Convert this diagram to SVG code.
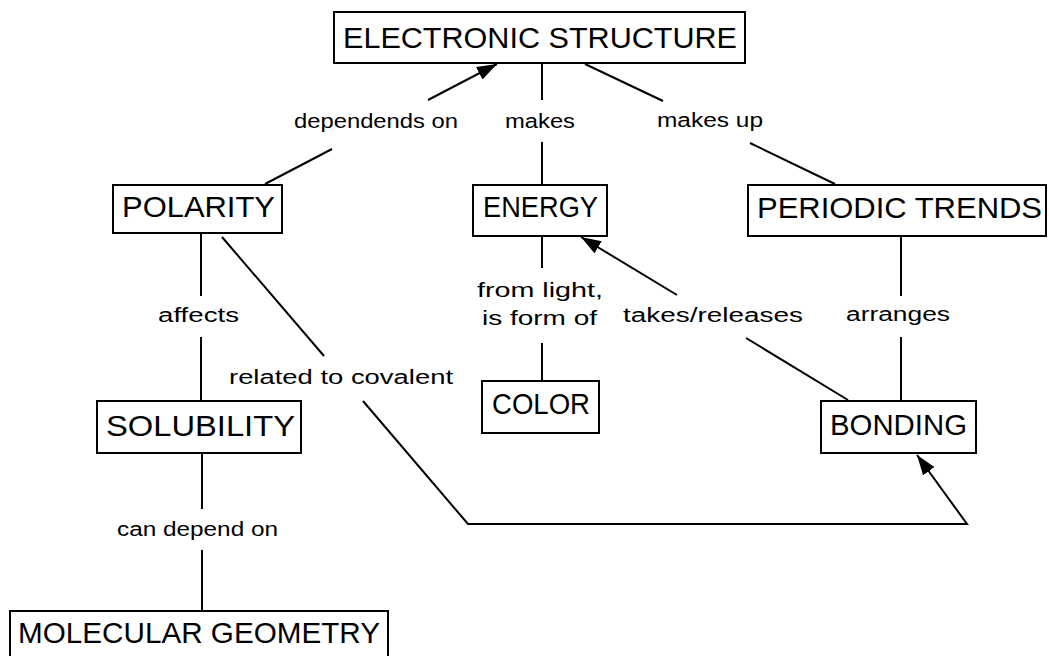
<svg xmlns="http://www.w3.org/2000/svg" width="1049" height="656" viewBox="0 0 1049 656">
<style>
.box{fill:#fff;stroke:#000;stroke-width:2}
.nt{font-family:"Liberation Sans",Arial,sans-serif;font-size:30px;fill:#000}
.lt{font-family:"Liberation Sans",Arial,sans-serif;font-size:20px;fill:#000}
.ln{fill:none;stroke:#000;stroke-width:2}
</style>
<defs>
<marker id="ah" viewBox="0 0 20 14" refX="20" refY="7" markerWidth="20" markerHeight="14" markerUnits="userSpaceOnUse" orient="auto">
<path d="M0,0 L20,7 L0,14 z" fill="#000"/>
</marker>
</defs>
<rect width="1049" height="656" fill="#fff"/>
<g id="connectors">
<line class="ln" x1="265" y1="184" x2="332" y2="149"/>
<line class="ln" x1="428" y1="100" x2="497" y2="64" marker-end="url(#ah)"/>
<line class="ln" x1="542" y1="63" x2="542" y2="100"/>
<line class="ln" x1="542" y1="142" x2="542" y2="185"/>
<line class="ln" x1="585" y1="64" x2="663" y2="101"/>
<line class="ln" x1="750" y1="143" x2="835" y2="184"/>
<line class="ln" x1="201" y1="233" x2="201" y2="296"/>
<line class="ln" x1="201" y1="337" x2="201" y2="401"/>
<line class="ln" x1="222" y1="237" x2="324" y2="356"/>
<polyline class="ln" points="363,401 468,524 967,524 917,455" marker-end="url(#ah)"/>
<line class="ln" x1="202" y1="453" x2="202" y2="509"/>
<line class="ln" x1="202" y1="550" x2="202" y2="611"/>
<line class="ln" x1="542" y1="236" x2="542" y2="268"/>
<line class="ln" x1="542" y1="343" x2="542" y2="381"/>
<line class="ln" x1="848" y1="400" x2="746" y2="338"/>
<line class="ln" x1="677" y1="295" x2="581" y2="237" marker-end="url(#ah)"/>
<line class="ln" x1="901" y1="236" x2="901" y2="296"/>
<line class="ln" x1="901" y1="337" x2="901" y2="401"/>
</g>
<g id="labels">
<text class="lt" x="294" y="128" textLength="164" lengthAdjust="spacingAndGlyphs">dependends on</text>
<text class="lt" x="505" y="128" textLength="70" lengthAdjust="spacingAndGlyphs">makes</text>
<text class="lt" x="657" y="127" textLength="106" lengthAdjust="spacingAndGlyphs">makes up</text>
<text class="lt" x="158" y="322" textLength="81" lengthAdjust="spacingAndGlyphs">affects</text>
<text class="lt" x="229" y="384" textLength="224" lengthAdjust="spacingAndGlyphs">related to covalent</text>
<text class="lt" x="477" y="297" textLength="126" lengthAdjust="spacingAndGlyphs">from light,</text>
<text class="lt" x="482" y="325" textLength="115" lengthAdjust="spacingAndGlyphs">is form of</text>
<text class="lt" x="623" y="322" textLength="180" lengthAdjust="spacingAndGlyphs">takes/releases</text>
<text class="lt" x="846" y="321" textLength="104" lengthAdjust="spacingAndGlyphs">arranges</text>
<text class="lt" x="117" y="536" textLength="161" lengthAdjust="spacingAndGlyphs">can depend on</text>
</g>
<g id="electronic-structure">
<rect class="box" x="334" y="12" width="411" height="51"/>
<text class="nt" x="343" y="48" textLength="394" lengthAdjust="spacingAndGlyphs">ELECTRONIC STRUCTURE</text>
</g>
<g id="polarity">
<rect class="box" x="113" y="185" width="169" height="48"/>
<text class="nt" x="122" y="217" textLength="153" lengthAdjust="spacingAndGlyphs">POLARITY</text>
</g>
<g id="energy">
<rect class="box" x="473" y="185" width="134" height="51"/>
<text class="nt" x="483" y="217" textLength="115" lengthAdjust="spacingAndGlyphs">ENERGY</text>
</g>
<g id="periodic-trends">
<rect class="box" x="748" y="185" width="298" height="51"/>
<text class="nt" x="757" y="218" textLength="285" lengthAdjust="spacingAndGlyphs">PERIODIC TRENDS</text>
</g>
<g id="solubility">
<rect class="box" x="97" y="401" width="204" height="52"/>
<text class="nt" x="106" y="436" textLength="189" lengthAdjust="spacingAndGlyphs">SOLUBILITY</text>
</g>
<g id="color">
<rect class="box" x="482" y="381" width="117" height="52"/>
<text class="nt" x="492" y="414" textLength="98" lengthAdjust="spacingAndGlyphs">COLOR</text>
</g>
<g id="bonding">
<rect class="box" x="821" y="401" width="155" height="52"/>
<text class="nt" x="830" y="435" textLength="137" lengthAdjust="spacingAndGlyphs">BONDING</text>
</g>
<g id="molecular-geometry">
<rect class="box" x="10" y="611" width="378" height="60"/>
<text class="nt" x="18" y="643" textLength="362" lengthAdjust="spacingAndGlyphs">MOLECULAR GEOMETRY</text>
</g>
</svg>
